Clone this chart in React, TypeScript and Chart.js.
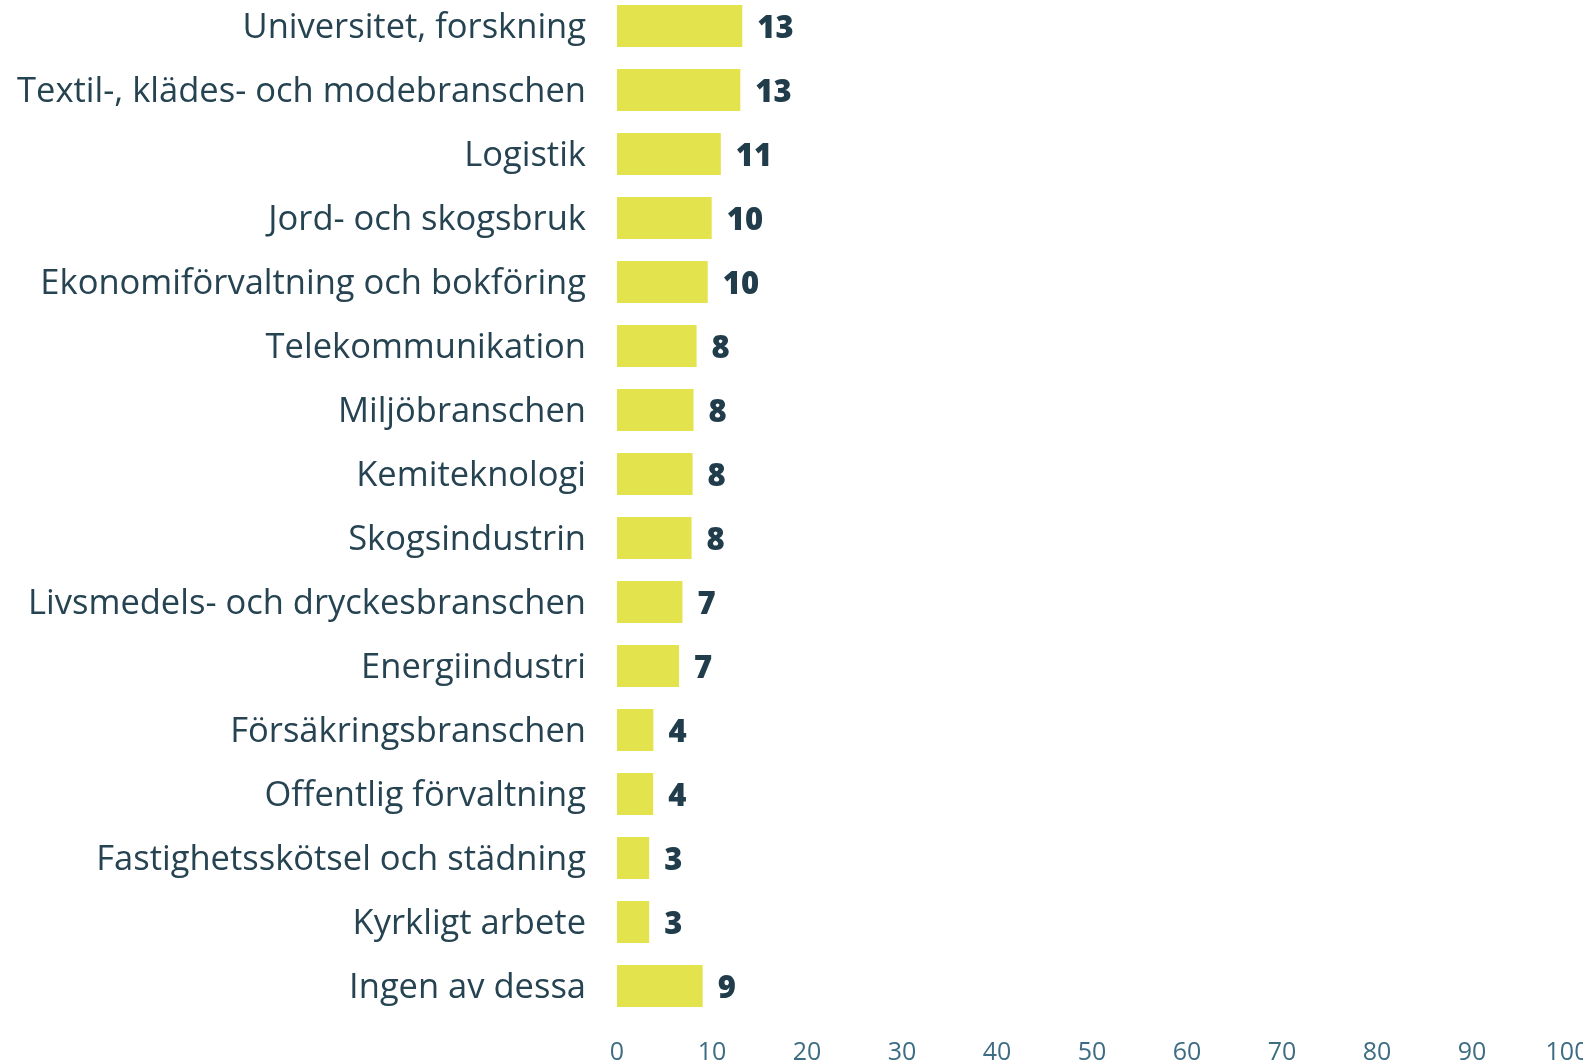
import React, { useEffect, useRef } from "react";
import { Chart, registerables } from "chart.js";

Chart.register(...registerables);

const categories = [
  "Universitet, forskning",
  "Textil-, klädes- och modebranschen",
  "Logistik",
  "Jord- och skogsbruk",
  "Ekonomiförvaltning och bokföring",
  "Telekommunikation",
  "Miljöbranschen",
  "Kemiteknologi",
  "Skogsindustrin",
  "Livsmedels- och dryckesbranschen",
  "Energiindustri",
  "Försäkringsbranschen",
  "Offentlig förvaltning",
  "Fastighetsskötsel och städning",
  "Kyrkligt arbete",
  "Ingen av dessa",
];

const values = [13.19, 12.98, 10.93, 9.97, 9.55, 8.38, 8.06, 7.96, 7.85, 6.89, 6.53, 3.83, 3.81, 3.39, 3.39, 9.02];

const xMin = 0;
const xMax = 100;
const xStep = 10;

const FONT = "'Open Sans', 'Noto Sans', sans-serif";

const valueLabelPlugin = {
  id: "valueLabels",
  afterDatasetsDraw(chart: any) {
    const ctx = chart.ctx;
    const meta = chart.getDatasetMeta(0);
    ctx.save();
    ctx.font = `800 31px ${FONT}`;
    ctx.fillStyle = "#213d4b";
    ctx.textAlign = "left";
    ctx.textBaseline = "middle";
    meta.data.forEach((bar: any, i: number) => {
      const v = chart.data.datasets[0].data[i] as number;
      ctx.fillText(String(Math.round(v)), bar.x + 15, bar.y + 3);
    });
    ctx.restore();
  },
};

export default function App() {
  const ref = useRef<HTMLCanvasElement | null>(null);

  useEffect(() => {
    if (!ref.current) return;
    const chart = new Chart(ref.current, {
      type: "bar",
      data: {
        labels: categories,
        datasets: [
          {
            data: values,
            backgroundColor: "#e3e34e",
            borderWidth: 0,
            barPercentage: 0.656,
            categoryPercentage: 1,
          },
        ],
      },
      options: {
        indexAxis: "y",
        animation: false,
        responsive: false,
        maintainAspectRatio: false,
        devicePixelRatio: 1,
        layout: { padding: { left: 0, right: 40, top: 0, bottom: 0 } },
        plugins: {
          legend: { display: false },
          tooltip: { enabled: false },
          title: { display: false },
        },
        scales: {
          x: {
            min: xMin,
            max: xMax,
            grid: { display: false, drawTicks: false },
            border: { display: false },
            ticks: {
              stepSize: xStep,
              padding: 20,
              color: "#3d6c83",
              font: { family: FONT, size: 25 },
              maxRotation: 0,
            },
            afterFit: (scale: any) => {
              scale.height = 46;
              scale.paddingLeft = 0;
              scale.paddingRight = 0;
            },
          },
          y: {
            grid: { display: false, drawTicks: false },
            border: { display: false },
            ticks: {
              padding: 31,
              labelOffset: 2,
              color: "#264352",
              font: { family: FONT, size: 34.5 },
            },
            afterFit: (scale: any) => {
              scale.width = 617;
              scale.paddingTop = 0;
              scale.paddingBottom = 0;
            },
          },
        },
      },
      plugins: [valueLabelPlugin],
    });
    return () => chart.destroy();
  }, []);

  return (
    <div
      style={{
        position: "fixed",
        left: 0,
        top: 0,
        width: 1583,
        height: 1064,
        overflow: "hidden",
        background: "#ffffff",
      }}
    >
      <canvas
        ref={ref}
        width={1607}
        height={1070}
        style={{ position: "absolute", left: 0, top: -6, width: 1607, height: 1070 }}
      />
    </div>
  );
}
